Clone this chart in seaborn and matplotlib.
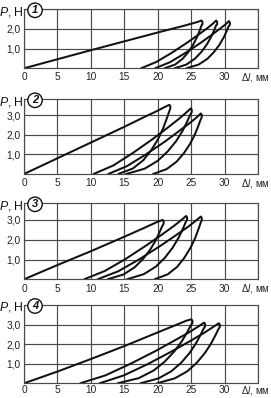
import matplotlib
matplotlib.use("Agg")
import matplotlib.pyplot as plt
import seaborn as sns
import pandas as pd

# ---------------- data ----------------
X_TICKS = [0, 5, 10, 15, 20, 25, 30, 35]
X_LABELS = ["0", "5", "10", "15", "20", "25", "30", ""]
X_UNIT = "Δ$l$, мм"
Y_TICKS = [1, 2, 3]
Y_LABELS_P1 = ["1,0", "2,0", ""]
Y_LABELS = ["1,0", "2,0", "3,0"]
PANEL_NUMBERS = ["1", "2", "3", "4"]
Y_TOPS = [3.0, 3.8, 3.84, 4.0]

# Panel 1
P1_LOOP1_X = [0, 5, 10, 15, 20, 24, 26.0, 26.55, 26.7, 26.68, 26.56, 26.30, 25.90, 25.33, 24.59, 23.74, 22.60, 21.0]
P1_LOOP1_P = [0, 0.46, 0.92, 1.37, 1.82, 2.17, 2.36, 2.43, 2.35, 2.23, 2.19, 1.94, 1.60, 1.22, 0.83, 0.49, 0.19, 0]
P1_LOOP2_X = [17.5, 19.78, 22.06, 24.34, 26.05, 27.42, 28.22, 28.75, 28.9, 28.88, 28.74, 28.45, 28.0, 27.36, 26.53, 25.57, 24.29, 22.5]
P1_LOOP2_P = [0, 0.32, 0.78, 1.29, 1.70, 2.04, 2.26, 2.43, 2.35, 2.23, 2.19, 1.94, 1.60, 1.22, 0.83, 0.49, 0.19, 0]
P1_LOOP3_X = [19.6, 21.84, 24.08, 26.32, 28.0, 29.34, 30.13, 30.65, 30.8, 30.78, 30.64, 30.35, 29.89, 29.24, 28.4, 27.42, 26.12, 24.3]
P1_LOOP3_P = [0, 0.31, 0.77, 1.27, 1.68, 2.02, 2.23, 2.40, 2.32, 2.20, 2.16, 1.92, 1.58, 1.20, 0.82, 0.48, 0.19, 0]

# Panel 2
P2_LOOP1_X = [0, 5, 10, 15, 18, 20, 21.0, 21.75, 21.9, 21.88, 21.71, 21.35, 20.81, 20.03, 19.01, 17.84, 16.28, 14.1]
P2_LOOP1_P = [0, 0.8, 1.6, 2.4, 2.9, 3.22, 3.4, 3.52, 3.44, 3.32, 3.17, 2.82, 2.32, 1.76, 1.20, 0.70, 0.28, 0]
P2_LOOP2_X = [10.4, 13.34, 16.28, 19.22, 21.43, 23.19, 24.22, 24.95, 25.1, 25.08, 24.86, 24.41, 23.73, 22.75, 21.47, 20.0, 18.04, 15.3]
P2_LOOP2_P = [0, 0.43, 1.07, 1.77, 2.34, 2.81, 3.11, 3.34, 3.26, 3.14, 3.01, 2.67, 2.20, 1.67, 1.14, 0.67, 0.27, 0]
P2_LOOP3_X = [12.6, 15.4, 18.2, 21.0, 23.1, 24.78, 25.76, 26.45, 26.6, 26.58, 26.42, 26.09, 25.58, 24.85, 23.9, 22.8, 21.34, 19.3]
P2_LOOP3_P = [0, 0.40, 0.99, 1.63, 2.16, 2.59, 2.86, 3.08, 3.0, 2.88, 2.77, 2.46, 2.03, 1.54, 1.05, 0.62, 0.25, 0]

# Panel 3
P3_LOOP1_X = [0, 5, 10, 15, 18, 19.8, 20.75, 20.9, 20.88, 20.69, 20.31, 19.72, 18.88, 17.79, 16.53, 14.85, 12.5]
P3_LOOP1_P = [0, 0.72, 1.42, 2.15, 2.6, 2.88, 3.0, 2.92, 2.80, 2.70, 2.40, 1.98, 1.50, 1.02, 0.60, 0.24, 0]
P3_LOOP2_X = [9.0, 12.08, 15.16, 18.24, 20.55, 22.4, 23.48, 24.25, 24.4, 24.38, 24.18, 23.77, 23.14, 22.24, 21.07, 19.72, 17.92, 15.4]
P3_LOOP2_P = [0, 0.42, 1.02, 1.70, 2.24, 2.69, 2.98, 3.2, 3.12, 3.0, 2.88, 2.56, 2.11, 1.60, 1.09, 0.64, 0.26, 0]
P3_LOOP3_X = [11.0, 14.12, 17.24, 20.36, 22.7, 24.57, 25.66, 26.45, 26.6, 26.58, 26.42, 26.1, 25.61, 24.9, 23.97, 22.91, 21.49, 19.5]
P3_LOOP3_P = [0, 0.41, 1.01, 1.68, 2.22, 2.66, 2.95, 3.17, 3.09, 2.97, 2.85, 2.54, 2.09, 1.59, 1.08, 0.63, 0.25, 0]

# Panel 4
P4_LOOP1_X = [0, 5, 10, 15, 20, 23.6, 24.3, 25.05, 25.2, 25.18, 24.92, 24.42, 23.63, 22.51, 21.06, 19.38, 17.14, 14.0]
P4_LOOP1_P = [0, 0.6, 1.24, 1.9, 2.6, 3.1, 3.2, 3.27, 3.19, 3.07, 2.94, 2.62, 2.16, 1.64, 1.11, 0.65, 0.26, 0]
P4_LOOP2_X = [8.4, 12.14, 15.88, 19.62, 22.43, 24.67, 25.98, 26.95, 27.1, 27.08, 26.86, 26.42, 25.74, 24.77, 23.51, 22.06, 20.12, 17.4]
P4_LOOP2_P = [0, 0.40, 0.99, 1.64, 2.17, 2.60, 2.88, 3.1, 3.02, 2.9, 2.79, 2.48, 2.05, 1.55, 1.05, 0.62, 0.25, 0]
P4_LOOP3_X = [11.3, 14.9, 18.5, 22.1, 24.8, 26.96, 28.22, 29.15, 29.3, 29.28, 29.07, 28.64, 27.98, 27.04, 25.82, 24.41, 22.53, 19.9]
P4_LOOP3_P = [0, 0.40, 0.98, 1.63, 2.15, 2.58, 2.86, 3.07, 2.99, 2.87, 2.76, 2.46, 2.03, 1.54, 1.04, 0.61, 0.25, 0]

# ---------------- build tables ----------------
def loops_frame(loops):
    rows = []
    for k, (xs, ps) in enumerate(loops):
        for i, (x, p) in enumerate(zip(xs, ps)):
            rows.append({"loop": k, "order": i, "dl": x, "P": p})
    return pd.DataFrame(rows)

frames = [
    loops_frame([(P1_LOOP1_X, P1_LOOP1_P), (P1_LOOP2_X, P1_LOOP2_P), (P1_LOOP3_X, P1_LOOP3_P)]),
    loops_frame([(P2_LOOP1_X, P2_LOOP1_P), (P2_LOOP2_X, P2_LOOP2_P), (P2_LOOP3_X, P2_LOOP3_P)]),
    loops_frame([(P3_LOOP1_X, P3_LOOP1_P), (P3_LOOP2_X, P3_LOOP2_P), (P3_LOOP3_X, P3_LOOP3_P)]),
    loops_frame([(P4_LOOP1_X, P4_LOOP1_P), (P4_LOOP2_X, P4_LOOP2_P), (P4_LOOP3_X, P4_LOOP3_P)]),
]

# ---------------- style ----------------
sns.set_theme(style="white")
plt.rcParams['font.family'] = ['Liberation Sans', 'DejaVu Sans']
plt.rcParams['mathtext.fontset'] = 'custom'
plt.rcParams['mathtext.it'] = 'Liberation Sans:italic'
plt.rcParams['mathtext.rm'] = 'Liberation Sans'

W, H = 271, 398
fig = plt.figure(figsize=(W / 100, H / 100), dpi=100)

BOXES = [(9.3, 68.3), (99.3, 174.0), (203.3, 279.3), (305.0, 383.3)]
LABEL_GAP = [9.0, 9.5, 9.5, 6.8]
LEFT, RIGHT = 24.0, 258.0
GRID_C = '#4a4a4a'

for idx, (df, (top, bot)) in enumerate(zip(frames, BOXES)):
    ax = fig.add_axes([LEFT / W, 1 - bot / H, (RIGHT - LEFT) / W, (bot - top) / H])
    sns.lineplot(data=df, x="dl", y="P", units="loop", estimator=None, sort=False,
                 color='#111111', linewidth=1.45, ax=ax, legend=False)
    ax.set_xlim(0, 35)
    ax.set_ylim(0, Y_TOPS[idx])
    ax.set_xticks(X_TICKS)
    ax.set_xticklabels(X_LABELS)
    ax.set_yticks(Y_TICKS)
    ax.set_yticklabels(Y_LABELS_P1 if idx == 0 else Y_LABELS)
    ax.set_xlabel("")
    ax.set_ylabel("")
    ax.grid(True, color=GRID_C, linewidth=0.85)
    ax.set_axisbelow(True)
    ax.tick_params(axis='both', length=0, labelsize=7.3, colors='#222222')
    ax.tick_params(axis='y', pad=2.5)
    for s in ax.spines.values():
        s.set_color(GRID_C)
        s.set_linewidth(0.85)
    ax.set_facecolor('white')

    gap = LABEL_GAP[idx]
    # x tick labels centred 'gap' pixels below the axis
    ax.tick_params(axis='x', pad=gap * 0.72 - 3.6)
    fig.text(270 / W, 1 - (bot + gap) / H, X_UNIT, ha='right', va='center',
             fontsize=7.0, color='#222222')
    fig.text(23.5 / W, 1 - (top + 2.4) / H, "$P$, Н", ha='right', va='center',
             fontsize=8.8, color='#111111')
    fig.text(35.0 / W, 1 - (top + 1.0) / H, PANEL_NUMBERS[idx], ha='center', va='center',
             fontsize=8, fontstyle='italic', fontweight='bold', color='#111111',
             bbox=dict(boxstyle='circle,pad=0.2', fc='white', ec='#111111', lw=1.0))

fig.savefig("out.png", dpi=100, facecolor='white')
